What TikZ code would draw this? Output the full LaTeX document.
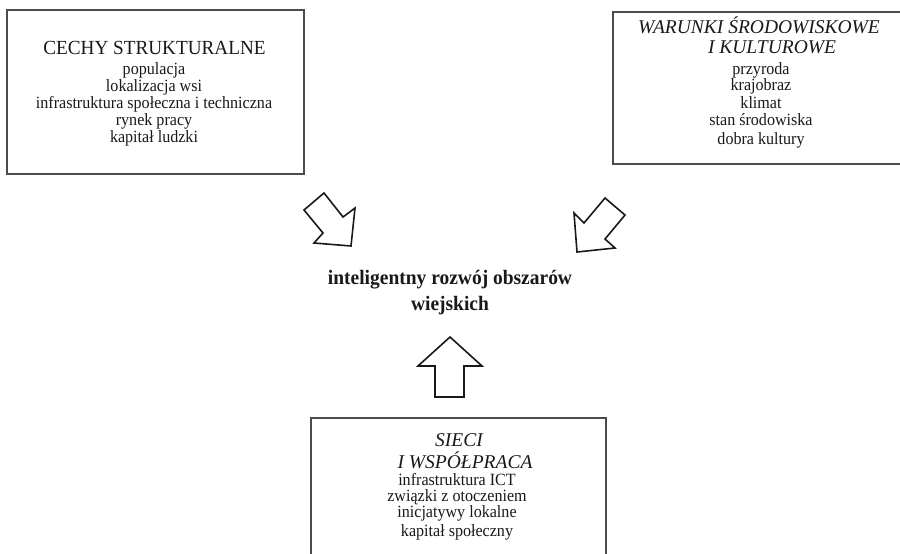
\documentclass[tikz,border=0pt]{standalone}
\usepackage{fontspec}
\setmainfont{Liberation Serif}
\newfontfamily\bodyfnt[FakeStretch=0.935]{Liberation Serif}
\newfontfamily\titlefnt[FakeStretch=0.96]{Liberation Serif}
\newfontfamily\ititlefnt[FakeStretch=1.0]{Liberation Serif}
\newfontfamily\mainfnt[FakeStretch=0.95]{Liberation Serif}
\begin{document}
\begin{tikzpicture}[x=1pt,y=-1pt,
  box/.style={draw=black!70, line width=1.1pt, rectangle, inner sep=0pt},
  bodyline/.style={anchor=base, inner sep=0pt, text=black!90, font=\bodyfnt\fontsize{17.2}{17}\selectfont},
  titleline/.style={anchor=base, inner sep=0pt, text=black!90, font=\titlefnt\fontsize{20}{20}\selectfont},
  ititleline/.style={anchor=base, inner sep=0pt, text=black!90, font=\ititlefnt\fontsize{19.5}{19.5}\selectfont\itshape},
  mainline/.style={anchor=base, inner sep=0pt, text=black!90, font=\mainfnt\fontsize{20.5}{25}\selectfont\bfseries},
  blockarrow/.style={draw=black!90, line width=1.6pt, line join=miter, fill=white}]
\clip (0,0) rectangle (900,554);
\fill[white] (0,0) rectangle (900,554);

% boxes
\node[box, minimum width=297pt, minimum height=164pt] (lbox) at (155.5,92) {};
\node[box, minimum width=300pt, minimum height=152pt] (rbox) at (763,88) {};
\node[box, minimum width=295pt, minimum height=145pt] (bbox) at (458.5,490.5) {};

% left box text
\node[titleline] (ltitle) at (154.5,54.3) {CECHY STRUKTURALNE};
\node[bodyline] (l1) at (154,74.5) {populacja};
\node[bodyline] (l2) at (154,91.5) {lokalizacja wsi};
\node[bodyline] (l3) at (154,108.5) {infrastruktura społeczna i techniczna};
\node[bodyline] (l4) at (154,125.5) {rynek pracy};
\node[bodyline] (l5) at (154,142.5) {kapitał ludzki};

% right box text
\node[ititleline] (rtitleA) at (759,34) {WARUNKI ŚRODOWISKOWE};
\node[ititleline] (rtitleB) at (772,53.3) {I KULTUROWE};
\node[bodyline] (r1) at (761,74) {przyroda};
\node[bodyline] (r2) at (761,90.7) {krajobraz};
\node[bodyline] (r3) at (761,108.3) {klimat};
\node[bodyline] (r4) at (761,125) {stan środowiska};
\node[bodyline] (r5) at (761,144) {dobra kultury};

% bottom box text
\node[ititleline] (btitleA) at (459,446.7) {SIECI};
\node[ititleline] (btitleB) at (465,468.3) {I WSPÓŁPRACA};
\node[bodyline] (b1) at (457,485) {infrastruktura ICT};
\node[bodyline] (b2) at (457,501) {związki z otoczeniem};
\node[bodyline] (b3) at (457,517.3) {inicjatywy lokalne};
\node[bodyline] (b4) at (457,536.7) {kapitał społeczny};

% centre
\node[mainline] (centreA) at (450,284) {inteligentny rozwój obszarów};
\node[mainline] (centreB) at (450,310) {wiejskich};

% block arrows
\draw[blockarrow] (324,193) -- (304,210) -- (323,233) -- (314,243) -- (351,246) -- (355,208) -- (343,217) -- cycle;
\draw[blockarrow] (605,198) -- (625,215) -- (605,239) -- (615,248) -- (577,252) -- (574,213) -- (584,223) -- cycle;
\draw[blockarrow] (450,337) -- (482,366) -- (464,366) -- (464,397) -- (435,397) -- (435,366) -- (418,366) -- cycle;
\end{tikzpicture}
\end{document}
